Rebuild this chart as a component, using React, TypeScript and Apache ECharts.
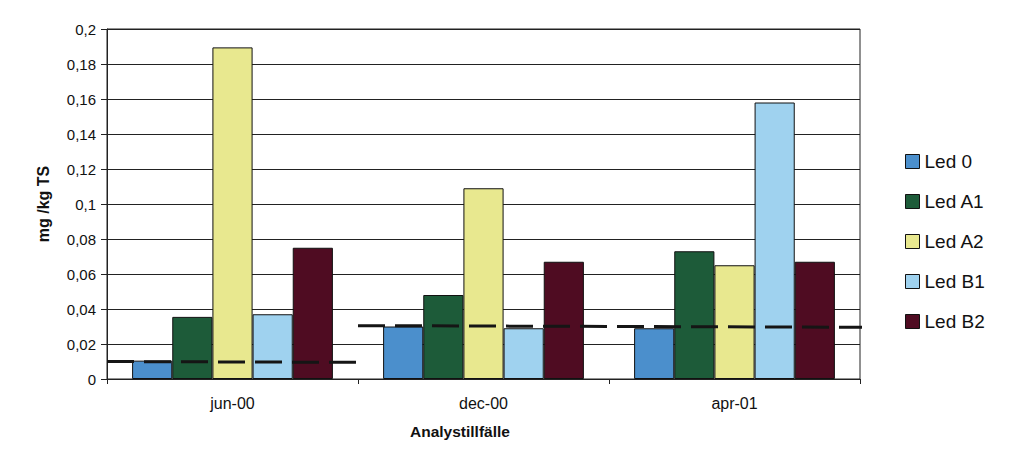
import React, { useEffect, useRef } from "react";
import * as echarts from "echarts";

const categories = ["jun-00", "dec-00", "apr-01"];
const seriesNames = ["Led 0", "Led A1", "Led A2", "Led B1", "Led B2"];
const led0 = [0.0105, 0.03, 0.029];
const ledA1 = [0.0355, 0.048, 0.073];
const ledA2 = [0.1895, 0.109, 0.065];
const ledB1 = [0.037, 0.029, 0.158];
const ledB2 = [0.075, 0.067, 0.067];
const colors = ["#4b8fcc", "#1d5b39", "#e8e88f", "#9fd2ef", "#4f0c22"];
// threshold segments: [x position in category units, value]
const limitJun = [[0, 0.01], [1, 0.0095]];
const limitDecApr = [[1, 0.0305], [3.07, 0.0295]];
const yTicks = [0, 0.02, 0.04, 0.06, 0.08, 0.1, 0.12, 0.14, 0.16, 0.18, 0.2];

export default function App() {
  const ref = useRef<HTMLDivElement>(null);
  useEffect(() => {
    if (!ref.current) return;
    const chart = echarts.init(ref.current, undefined, { renderer: "svg" });
    const values = [led0, ledA1, ledA2, ledB1, ledB2];
    const font = "'Liberation Sans', Arial, sans-serif";
    chart.setOption({
      animation: false,
      textStyle: { fontFamily: font },
      grid: {
        left: 99,
        right: 163,
        top: 21,
        bottom: 83,
        show: true,
        borderColor: "#222",
        borderWidth: 1,
        containLabel: false,
      },
      legend: {
        orient: "vertical",
        left: 892,
        top: 139,
        icon: "rect",
        itemWidth: 14,
        itemHeight: 14,
        itemGap: 21,
        data: seriesNames,
        itemStyle: { borderColor: "#111", borderWidth: 1 },
        textStyle: { fontSize: 19, color: "#111", fontFamily: font },
      },
      xAxis: [
        {
          type: "category",
          data: categories,
          axisLine: { lineStyle: { color: "#222", width: 1 } },
          axisTick: { show: true, length: 5, lineStyle: { color: "#222" } },
          axisLabel: { fontSize: 16, color: "#111", margin: 16, fontFamily: font },
        },
        {
          type: "value",
          min: 0,
          max: 3,
          show: false,
        },
      ],
      yAxis: {
        type: "value",
        min: 0,
        max: 0.2,
        interval: 0.02,
        name: "mg /kg TS",
        nameLocation: "middle",
        nameGap: 56,
        nameTextStyle: { fontSize: 16, fontWeight: "bold", color: "#111", fontFamily: font },
        axisLine: { show: true, lineStyle: { color: "#222" } },
        axisTick: { show: true, length: 6, lineStyle: { color: "#222" } },
        axisLabel: {
          fontSize: 15,
          color: "#111",
          margin: 11,
          fontFamily: font,
          formatter: (v: number) => {
            const t = yTicks.find((x) => Math.abs(x - v) < 1e-9);
            const n = t !== undefined ? t : v;
            return String(parseFloat(n.toFixed(2))).replace(".", ",");
          },
        },
        splitLine: { show: true, lineStyle: { color: "#222", width: 1 } },
      },
      graphic: [
        {
          type: "text",
          left: 402,
          top: 415,
          style: { text: "Analystillfälle", fontSize: 15.5, fontWeight: "bold", fill: "#111", fontFamily: font },
        },
      ],
      series: [
        ...seriesNames.map((name, i) => ({
          name,
          type: "bar",
          data: values[i],
          barGap: "0%",
          barCategoryGap: "20%",
          itemStyle: { color: colors[i], borderColor: "#111", borderWidth: 1 },
        })),
        {
          name: "limitJun",
          type: "line",
          xAxisIndex: 1,
          data: limitJun,
          symbol: "none",
          clip: false,
          lineStyle: { color: "#151515", width: 3, type: [27, 10] },
        },
        {
          name: "limitDecApr",
          type: "line",
          xAxisIndex: 1,
          data: limitDecApr,
          symbol: "none",
          clip: false,
          lineStyle: { color: "#151515", width: 3, type: [27, 10] },
        },
      ],
    });
    return () => chart.dispose();
  }, []);
  return <div ref={ref} style={{ width: 1015, height: 454 }} />;
}
